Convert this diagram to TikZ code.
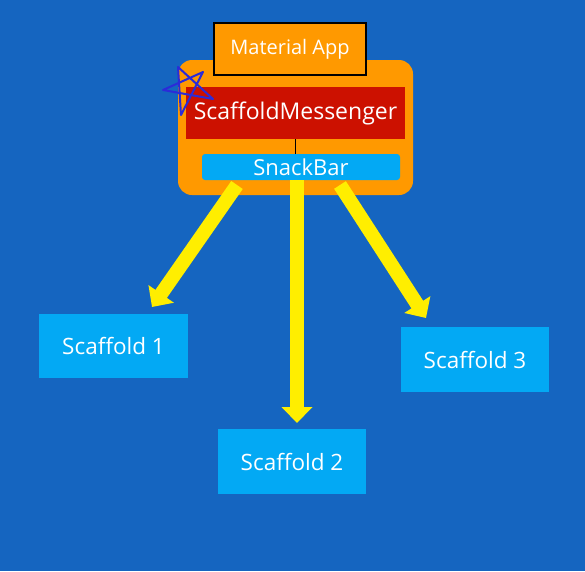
\documentclass[tikz,border=0pt]{standalone}
\usepackage{fontspec}
\setmainfont{Open Sans}
\usetikzlibrary{arrows.meta}

\definecolor{bgblue}{HTML}{1565C0}
\definecolor{apporange}{HTML}{FF9900}
\definecolor{msgred}{HTML}{CC1100}
\definecolor{barblue}{HTML}{03A9F4}
\definecolor{arrowyellow}{HTML}{FFEE00}
\definecolor{starblue}{HTML}{2B2BD8}

\begin{document}
\begin{tikzpicture}[x=1pt, y=-1pt,
    box/.style={fill=barblue, text=white, inner sep=0pt, minimum width=148pt, minimum height=65pt,
        font=\fontsize{22.5}{25}\selectfont},
    bigarrow/.style={arrowyellow, line width=14pt,
        -{Triangle[width=30pt, length=16pt]}}]
    % Background
    \fill[bgblue] (0,0) rectangle (585,571);

    % Container and the widgets inside it
    \node[fill=apporange, rounded corners=14pt, minimum width=235pt, minimum height=135pt,
        inner sep=0pt] (scope) at (295.5,127.5) {};
    \node[fill=apporange, draw=black, line width=2.5pt, text=white, minimum width=152pt,
        minimum height=52pt, inner sep=0pt, font=\fontsize{20}{22}\selectfont] (app) at (290,49) {Material App};
    \node[fill=msgred, text=white, minimum width=219pt, minimum height=52pt, inner sep=0pt,
        font=\fontsize{23}{26}\selectfont] (msgr) at (295.5,113) {ScaffoldMessenger};
    \node[fill=barblue, text=white, rounded corners=3pt, minimum width=198pt, minimum height=26pt,
        inner sep=0pt, font=\fontsize{22}{24}\selectfont] (snack) at (301,167) {SnackBar};
    \draw[black, line width=1.2pt] (msgr.south) -- (msgr.south |- snack.north);

    % Scaffolds
    \node[box, minimum width=149pt, minimum height=64pt] (s1) at (113.5,346) {Scaffold 1};
    \node[box] (s2) at (292,461.5) {Scaffold 2};
    \node[box] (s3) at (475,359.5) {Scaffold 3};

    % Arrows from the SnackBar to each Scaffold
    \coordinate (from1) at (237,185);
    \coordinate (from2) at (297,180);
    \coordinate (from3) at (340,185);
    \coordinate (tip1) at (152,307);
    \coordinate (tip2) at (297,423);
    \coordinate (tip3) at (426,318);
    \foreach \i in {1,2,3}
        \draw[bigarrow] (from\i) -- (tip\i);

    % Star mark on the messenger
    \draw[starblue, line width=2pt, line join=round]
        (178,67) -- (213,99) -- (163,90) -- (203,72) -- (181,115) -- cycle;
\end{tikzpicture}
\end{document}
